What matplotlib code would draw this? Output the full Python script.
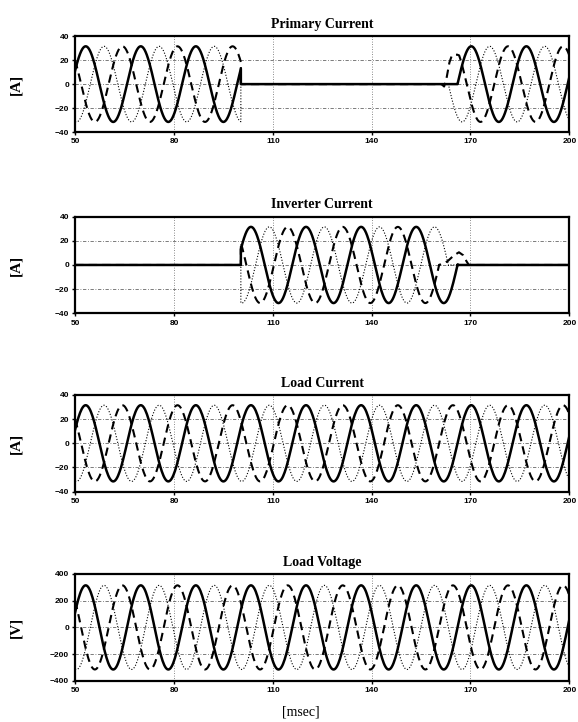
import numpy as np
import matplotlib.pyplot as plt

# three-phase traces, values
period = 16.72          # ms (about 60 Hz)
t_peak = 53.2           # first peak of the solid phase [ms]
amp_i = 31.5            # current amplitude [A]
amp_v = 315.0           # voltage amplitude [V]
shift = {'solid': 0.0, 'dotted': 1/3, 'dashed': 2/3}   # lag, in periods

# switching instants [ms]
t_off = 100.3           # primary opens, inverter takes over
t_on = {'solid': 166.1, 'dotted': 163.3, 'dashed': 166.55}

# transient bits that are not plain sine
prim_dash_t = [161.2, 162.0, 162.8, 163.6, 164.3, 165.2, 166.0]
prim_dash_v = [0, -2, 6, 18, 23.5, 24.5, 24.5]
inv_dash_t = [160.5, 161.5, 163.0, 165.0, 166.5, 167.8, 168.8, 169.5]
inv_dash_v = [0, 1, 3, 8, 10.5, 8, 3, 0]

titles = ['Primary Current', 'Inverter Current', 'Load Current', 'Load Voltage']
units = ['[A]', '[A]', '[A]', '[V]']
xticks = [50, 80, 110, 140, 170, 200]
yticks_i = [-40, -20, 0, 20, 40]
yticks_v = [-400, -200, 0, 200, 400]


def wave(t, amp, ph):
    return amp * np.cos(2 * np.pi * (t - t_peak - shift[ph] * period) / period)


def piece(t0, t1, amp, ph):
    t = np.linspace(t0, t1, 600)
    return t, wave(t, amp, ph)


def join(*parts):
    t = np.concatenate([np.asarray(p[0], float) for p in parts])
    v = np.concatenate([np.asarray(p[1], float) for p in parts])
    return t, v


series = {}
# primary current
series[0] = {
    'solid': join(piece(50, t_off, amp_i, 'solid'), ([t_off, t_on['solid']], [0, 0]),
                  piece(t_on['solid'], 200, amp_i, 'solid')),
    'dotted': join(piece(50, t_off, amp_i, 'dotted'), ([t_off, t_on['dotted']], [0, 0]),
                   piece(t_on['dotted'], 200, amp_i, 'dotted')),
    'dashed': join(piece(50, t_off, amp_i, 'dashed'), ([t_off], [0]),
                   (prim_dash_t, prim_dash_v), piece(t_on['dashed'], 200, amp_i, 'dashed')),
}
# inverter current
series[1] = {
    'solid': join(([50, t_off], [0, 0]), piece(t_off, t_on['solid'], amp_i, 'solid'),
                  ([t_on['solid'], 200], [0, 0])),
    'dotted': join(([50, t_off], [0, 0]), piece(t_off, t_on['dotted'], amp_i, 'dotted'),
                   ([t_on['dotted'], 200], [0, 0])),
    'dashed': join(([50, t_off], [0, 0]), piece(t_off, inv_dash_t[0], amp_i, 'dashed'),
                   (inv_dash_t, inv_dash_v), ([200], [0])),
}
# load current and voltage
series[2] = {ph: piece(50, 200, amp_i, ph) for ph in shift}
series[3] = {ph: piece(50, 200, amp_v, ph) for ph in shift}

styles = {
    'dotted': dict(lw=0.8, ls=(0, (1, 1.6))),
    'dashed': dict(lw=1.5, ls=(0, (4, 2.5))),
    'solid': dict(lw=1.8, ls='-'),
}

fig = plt.figure(figsize=(5.78, 7.22), dpi=100)
boxes = [(0.13, 0.817, 0.855, 0.133),
         (0.13, 0.566, 0.855, 0.134),
         (0.13, 0.319, 0.855, 0.134),
         (0.13, 0.057, 0.855, 0.148)]

for i, box in enumerate(boxes):
    ax = fig.add_axes(box)
    for ph in ['dotted', 'dashed', 'solid']:
        t, v = series[i][ph]
        ax.plot(t, v, color='black', **styles[ph])
    yt = yticks_v if i == 3 else yticks_i
    ax.set_xlim(50, 200)
    ax.set_ylim(yt[0], yt[-1])
    ax.set_xticks(xticks)
    ax.set_yticks(yt)
    for x in xticks[1:-1]:
        ax.axvline(x, color='0.4', lw=0.6, ls=(0, (1, 2)), zorder=0)
    for y in yt[1:-1]:
        ax.axhline(y, color='0.4', lw=0.6, ls=(0, (4, 2, 1, 2)), zorder=0)
    for s in ax.spines.values():
        s.set_linewidth(1.6)
    ax.tick_params(direction='out', length=2.5, width=1, pad=2)
    for lab in ax.get_xticklabels() + ax.get_yticklabels():
        lab.set_fontfamily('Liberation Sans')
        lab.set_fontweight('bold')
        lab.set_fontsize(6)
    ax.set_title(titles[i], family='Liberation Serif', fontweight='bold', fontsize=10, pad=6)
    ax.set_ylabel(units[i], family='Liberation Serif', fontweight='bold', fontsize=11)
    ax.yaxis.set_label_coords(-0.106, 0.5)

fig.text(0.52, 0.014, '[msec]', family='Liberation Serif', fontsize=10, ha='center', va='center')

fig.savefig('out.png', dpi=100)
